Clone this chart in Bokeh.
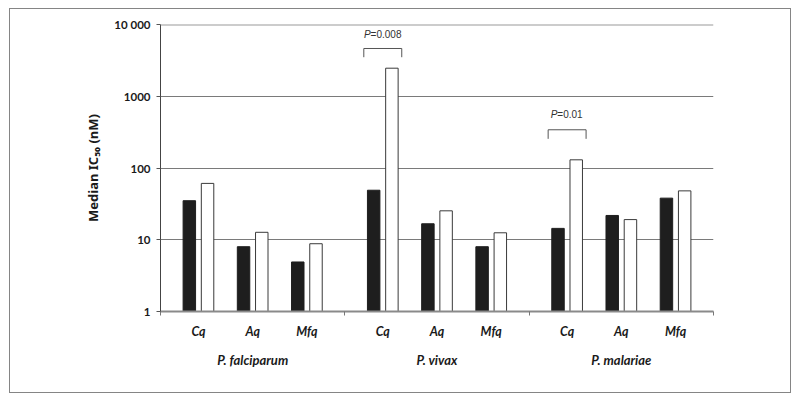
from bokeh.plotting import figure
from bokeh.models import FixedTicker, LinearAxis, Span, Label, ColumnDataSource, Range1d
from bokeh.embed import file_html
from bokeh.resources import INLINE

# ---------------- data ----------------
species = ["P. falciparum", "P. vivax", "P. malariae"]
drugs = ["Cq", "Aq", "Mfq"]
# median IC50 (nM), order: species x drug
series_dark = [35, 8.0, 4.9, 49, 16.7, 8.0, 14.4, 21.8, 38]
series_light = [61, 12.7, 8.8, 2460, 25.3, 12.5, 130, 19.1, 48]
y_ticks = [1, 10, 100, 1000, 10000]
y_tick_labels = ["1", "10", "100", "1000", "10 000"]
comparisons = [("P. vivax", "Cq", "0.008"), ("P. malariae", "Cq", "0.01")]
comparison_levels = [(3500, 4630, 6085), (255, 341, 467)]  # bracket low, bracket high, text baseline

# ---------------- layout units ----------------
GROUP = 34
STEP = 10
OFFSET = 7
DODGE = 1.68
BAR_W = 2.3

def xpos(gi, di):
    return gi * GROUP + OFFSET + di * STEP

xs, cat_species, cat_drug = [], [], []
for gi, s in enumerate(species):
    for di, d in enumerate(drugs):
        xs.append(xpos(gi, di))
        cat_species.append(s)
        cat_drug.append(d)

src = ColumnDataSource(dict(
    x_dark=[x - DODGE for x in xs],
    x_light=[x + DODGE for x in xs],
    dark=series_dark,
    light=series_light,
))

p = figure(width=782, height=385, y_axis_type="log",
           x_range=Range1d(0, GROUP * len(species)), y_range=Range1d(y_ticks[0], y_ticks[-1]),
           output_backend="svg", toolbar_location=None,
           min_border_left=150, min_border_right=79, min_border_top=15, min_border_bottom=83)
p.styles = {"border": "1px solid #858585", "margin-left": "9px", "margin-top": "8px"}
p.outline_line_color = None
p.background_fill_color = "white"
p.border_fill_color = "white"

# grid
p.xgrid.grid_line_color = None
p.ygrid.ticker = FixedTicker(ticks=y_ticks)
p.ygrid.grid_line_color = "#7a7a7a"
p.ygrid.grid_line_width = 1
p.add_layout(Span(location=y_ticks[-1], dimension="width", line_color="#9a9a9a", line_width=2))

# bars
p.vbar(x="x_dark", top="dark", bottom=y_ticks[0], width=BAR_W, source=src,
       fill_color="#1e1e1e", line_color="#1e1e1e", line_width=1)
p.vbar(x="x_light", top="light", bottom=y_ticks[0], width=BAR_W, source=src,
       fill_color="white", line_color="#3a3a3a", line_width=1)

# y axis
yax = p.yaxis[0]
yax.ticker = FixedTicker(ticks=y_ticks, minor_ticks=[])
yax.major_label_overrides = {t: l for t, l in zip(y_ticks, y_tick_labels)}
yax.major_label_text_font = "Lato"
yax.major_label_text_font_style = "bold"
yax.major_label_text_font_size = "11.5px"
yax.major_label_text_color = "#1a1a1a"
yax.major_label_standoff = 6
yax.major_tick_out = 4
yax.major_tick_in = 0
yax.major_tick_line_color = "#555555"
yax.axis_line_color = "#444444"
yax.axis_line_width = 1
yax.axis_label = "Median IC\u2085\u2080 (nM)"
yax.axis_label_text_font = "Noto Sans"
yax.axis_label_text_font_style = "bold"
yax.axis_label_text_font_size = "13px"
yax.axis_label_text_color = "#1a1a1a"
yax.axis_label_standoff = 9

# x axis: drug labels, minor ticks at group boundaries
xax = p.xaxis[0]
bounds = [gi * GROUP for gi in range(len(species) + 1)]
xax.ticker = FixedTicker(ticks=xs, minor_ticks=bounds)
xax.major_label_overrides = {x: d for x, d in zip(xs, cat_drug)}
xax.major_tick_line_color = None
xax.major_tick_out = 0
xax.minor_tick_out = 4
xax.minor_tick_in = 0
xax.minor_tick_line_color = "#777777"
xax.axis_line_color = "#8a8a8a"
xax.axis_line_width = 2
xax.major_label_text_font = "Lato"
xax.major_label_text_font_style = "bold italic"
xax.major_label_text_font_size = "12.5px"
xax.major_label_text_color = "#1a1a1a"
xax.major_label_standoff = 8

# species axis
gcent = [gi * GROUP + GROUP / 2 for gi in range(len(species))]
sax = LinearAxis(ticker=FixedTicker(ticks=gcent, minor_ticks=[]),
                 major_label_overrides={c: s for c, s in zip(gcent, species)})
sax.axis_line_color = None
sax.major_tick_line_color = None
sax.minor_tick_line_color = None
sax.major_label_text_font = "Lato"
sax.major_label_text_font_style = "bold italic"
sax.major_label_text_font_size = "13px"
sax.major_label_text_color = "#1a1a1a"
sax.major_label_standoff = 4
p.add_layout(sax, "below")

# significance brackets
for (s, d, pv), (lo, hi, ty) in zip(comparisons, comparison_levels):
    cx = xpos(species.index(s), drugs.index(d))
    half = 3.5
    p.line(x=[cx - half, cx - half, cx + half, cx + half], y=[lo, hi, hi, lo],
           line_color="#555555", line_width=1)
    rest = "=" + pv
    split = 5 - (5 + len(rest) * 4.9) / 2
    p.add_layout(Label(x=cx, y=ty, text="P", text_align="right", x_offset=split,
                       text_font="Liberation Sans", text_font_style="italic",
                       text_font_size="10px", text_color="#333333"))
    p.add_layout(Label(x=cx, y=ty, text=rest, text_align="left", x_offset=split,
                       text_font="Liberation Sans", text_font_size="10px", text_color="#333333"))

open("out.html", "w").write(file_html(p, INLINE))
